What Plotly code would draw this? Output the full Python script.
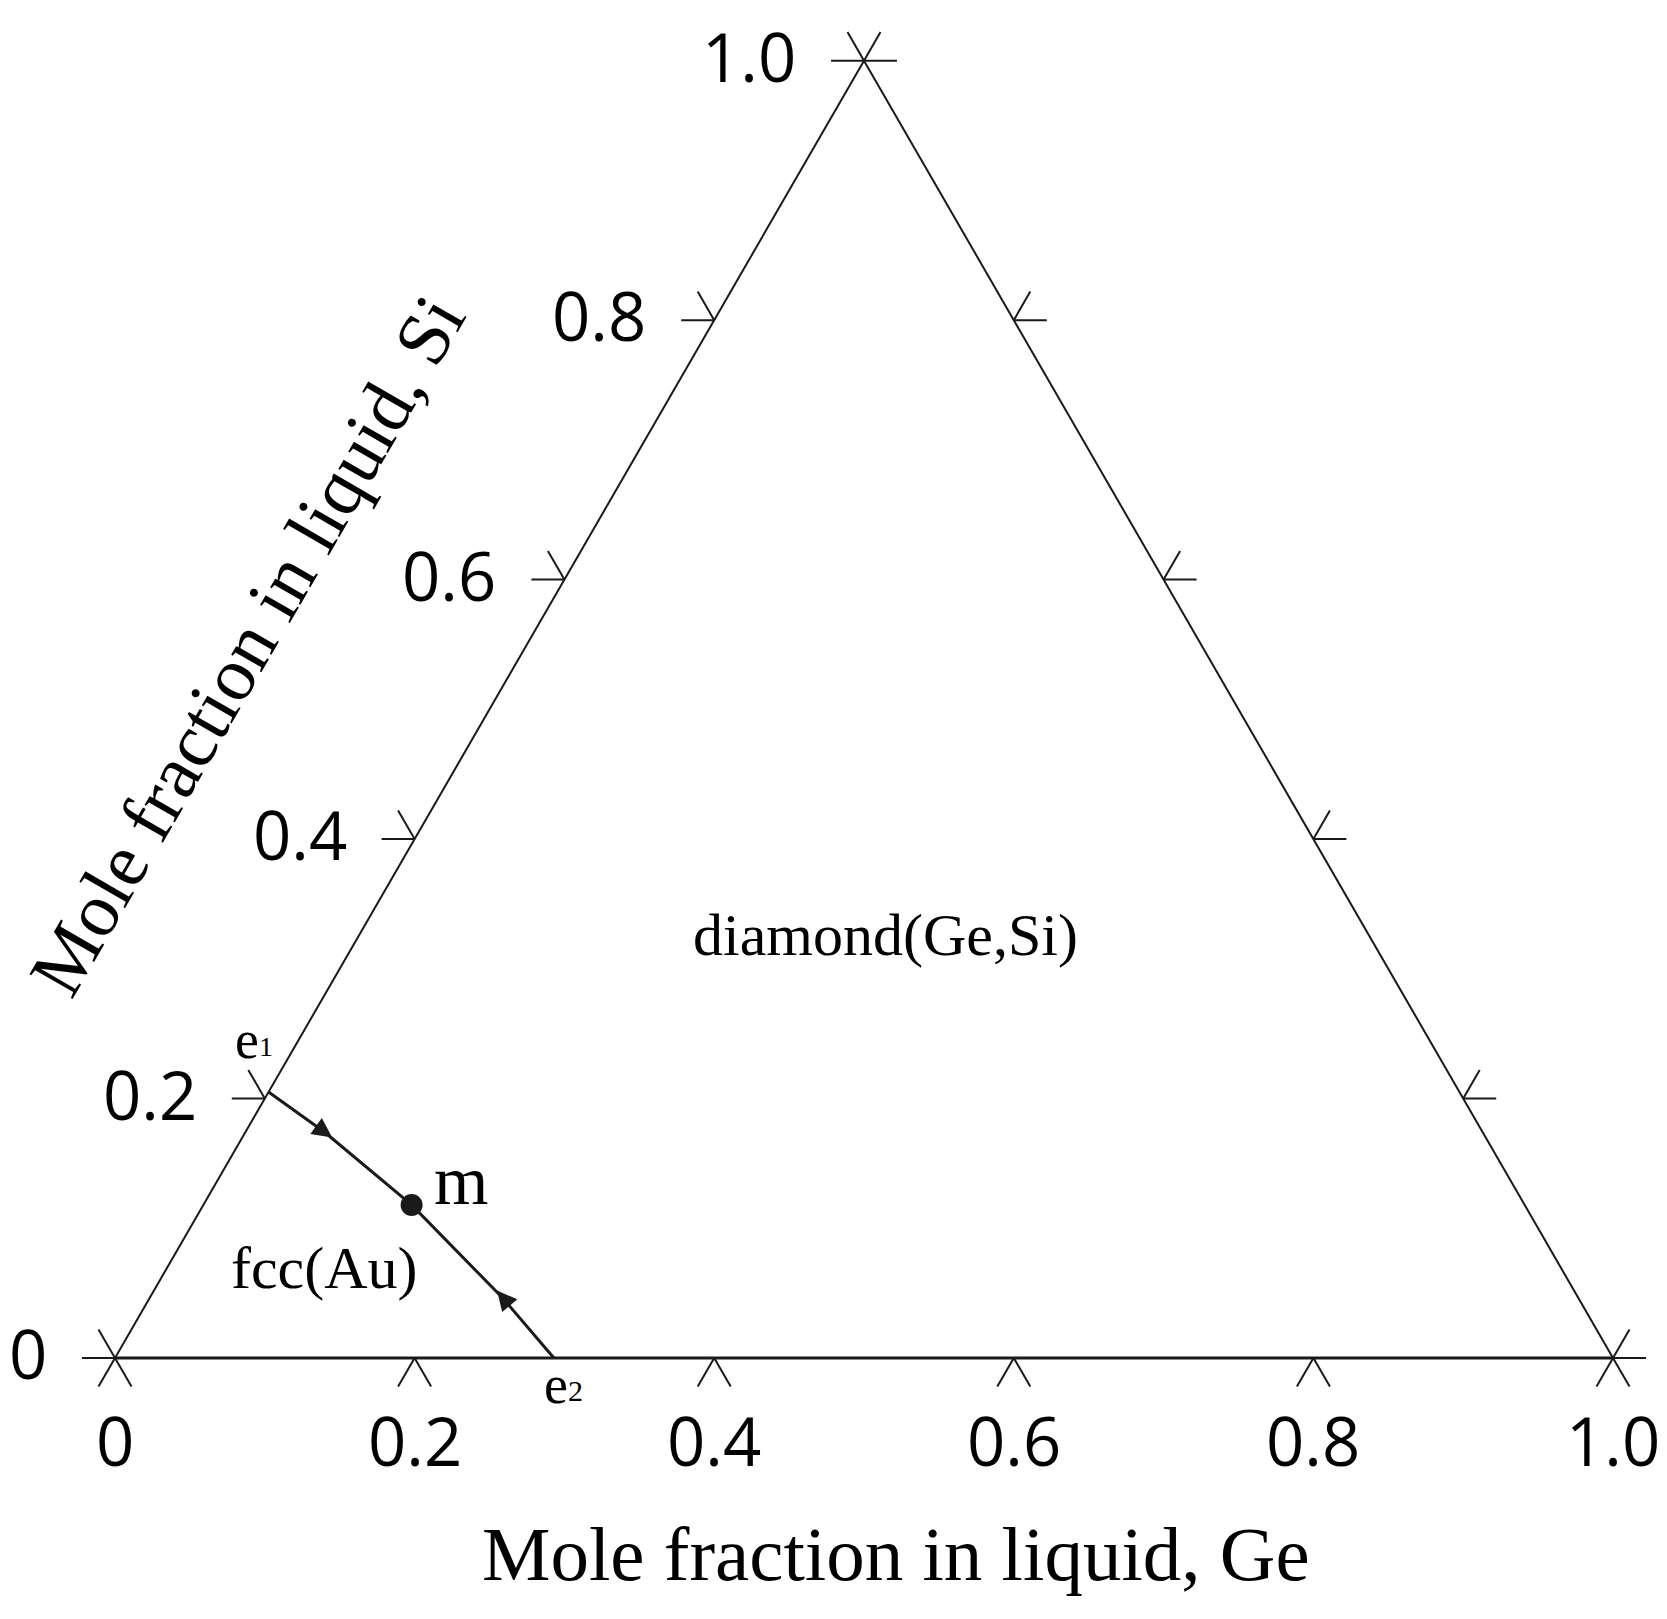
import math
import plotly.graph_objects as go

# ---------------- data ----------------
ge_ticks = [0.0, 0.2, 0.4, 0.6, 0.8, 1.0]
ge_tick_labels = ["0", "0.2", "0.4", "0.6", "0.8", "1.0"]
si_ticks = [0.0, 0.2, 0.4, 0.6, 0.8, 1.0]
si_tick_labels = ["0", "0.2", "0.4", "0.6", "0.8", "1.0"]

# univariant line e1 -> m <- e2 (mole fractions Ge, Si)
curve_ge = [0.0, 0.053, 0.139, 0.236, 0.293]
curve_si = [0.205, 0.174, 0.118, 0.046, 0.0]
# arrowheads on the line (tip positions) and the curve point they come from
arrow_ge = [0.060, 0.229]
arrow_si = [0.170, 0.052]
arrow_from = [0, 4]
m_point = (0.139, 0.118)

S3 = math.sqrt(3) / 2


def to_xy(ge, si):
    return ge + si / 2.0, si * S3


PX = 1498.0                  # pixels per unit
OX, OY = 115, 1358           # page pixel of the (0,0) corner
L = 33 / PX                  # tick length
INK = "#1a1a1a"

fig = go.Figure()

# triangle edges
tx, ty = [], []
for g, s in [(1, 0), (0, 1), (0, 0)]:
    x, y = to_xy(g, s)
    tx.append(x); ty.append(y)
fig.add_trace(go.Scatter(x=tx, y=ty, mode="lines", line=dict(color=INK, width=2),
                         hoverinfo="skip", showlegend=False))
bx0, by0 = to_xy(0, 0)
bx1, by1 = to_xy(1, 0)
fig.add_trace(go.Scatter(x=[bx0, bx1], y=[by0, by1], mode="lines",
                         line=dict(color=INK, width=3), hoverinfo="skip", showlegend=False))

# ticks
kx, ky = [], []
def seg(p, d):
    kx.extend([p[0], p[0] + L * d[0], None]); ky.extend([p[1], p[1] + L * d[1], None])

for g in ge_ticks:
    p = to_xy(g, 0)
    seg(p, (-0.5, -S3)); seg(p, (0.5, -S3))
for s in si_ticks:
    p = to_xy(0, s)
    seg(p, (-1, 0)); seg(p, (-0.5, S3))
    q = to_xy(1 - s, s)
    seg(q, (1, 0)); seg(q, (0.5, S3))
fig.add_trace(go.Scatter(x=kx, y=ky, mode="lines", line=dict(color=INK, width=2),
                         hoverinfo="skip", showlegend=False))

# curve
cx, cy = zip(*[to_xy(g, s) for g, s in zip(curve_ge, curve_si)])
fig.add_trace(go.Scatter(x=list(cx), y=list(cy), mode="lines", line=dict(color=INK, width=3),
                         hoverinfo="skip", showlegend=False))
mx, my = to_xy(*m_point)
fig.add_trace(go.Scatter(x=[mx], y=[my], mode="markers", marker=dict(color=INK, size=22),
                         hoverinfo="skip", showlegend=False))

annotations = []
# arrowheads
for g, s, j in zip(arrow_ge, arrow_si, arrow_from):
    hx, hy = to_xy(g, s)
    dx, dy = hx - cx[j], hy - cy[j]
    n = math.hypot(dx, dy)
    tl = 16 / PX
    annotations.append(dict(x=hx, y=hy, ax=hx - dx / n * tl, ay=hy - dy / n * tl,
                            xref="x", yref="y", axref="x", ayref="y", text="",
                            showarrow=True, arrowhead=2, arrowsize=1.8, arrowwidth=2.2,
                            arrowcolor=INK, standoff=0))

TICKFONT = dict(family="Open Sans", size=67, color="black")
SERIF = "Liberation Serif"

# left tick labels
for s, lab in zip(si_ticks, si_tick_labels):
    x, y = to_xy(0, s)
    annotations.append(dict(x=x - L - 33 / PX, y=y, xref="x", yref="y", text=lab,
                            showarrow=False, xanchor="right", yanchor="middle",
                            font=TICKFONT, yshift=5))
# bottom tick labels
for g, lab in zip(ge_ticks, ge_tick_labels):
    x, y = to_xy(g, 0)
    annotations.append(dict(x=x, y=y - 84 / PX, xref="x", yref="y", text=lab,
                            showarrow=False, xanchor="center", yanchor="middle",
                            font=TICKFONT, yshift=2))

def px2data(px, py):
    return (px - OX) / PX, (OY - py) / PX

# axis titles
x, y = px2data(896, 1554)
annotations.append(dict(x=x, y=y, xref="x", yref="y", text="Mole fraction in liquid, Ge",
                        showarrow=False, xanchor="center", yanchor="middle",
                        font=dict(family=SERIF, size=77, color="black")))
x, y = px2data(247, 645)
annotations.append(dict(x=x, y=y, xref="x", yref="y", text="Mole fraction in liquid, Si",
                        showarrow=False, xanchor="center", yanchor="middle", textangle=-60,
                        font=dict(family=SERIF, size=76, color="black")))

# region / point labels
def txt(px, py, t, size, anchor="center"):
    x, y = px2data(px, py)
    annotations.append(dict(x=x, y=y, xref="x", yref="y", text=t, showarrow=False,
                            xanchor=anchor, yanchor="middle",
                            font=dict(family=SERIF, size=size, color="black")))

txt(885, 935, "diamond(Ge,Si)", 60)
txt(324, 1268, "fcc(Au)", 60)
txt(432, 1180, "m", 70, "left")
txt(233, 1040, "e", 54, "left")
txt(257, 1046, "1", 28, "left")
txt(542, 1385, "e", 54, "left")
txt(566, 1390, "2", 30, "left")

W, H = 1667, 1619
fig.update_layout(
    width=W, height=H, margin=dict(l=0, r=0, t=0, b=0),
    paper_bgcolor="white", plot_bgcolor="white",
    xaxis=dict(range=[-OX / PX, (W - OX) / PX], visible=False, fixedrange=True),
    yaxis=dict(range=[(OY - H) / PX, OY / PX], visible=False, fixedrange=True),
    annotations=annotations, showlegend=False,
)
fig.write_html("out.html", config={"displayModeBar": False},
               post_script="document.body.style.margin='0';document.body.style.overflow='hidden';")
